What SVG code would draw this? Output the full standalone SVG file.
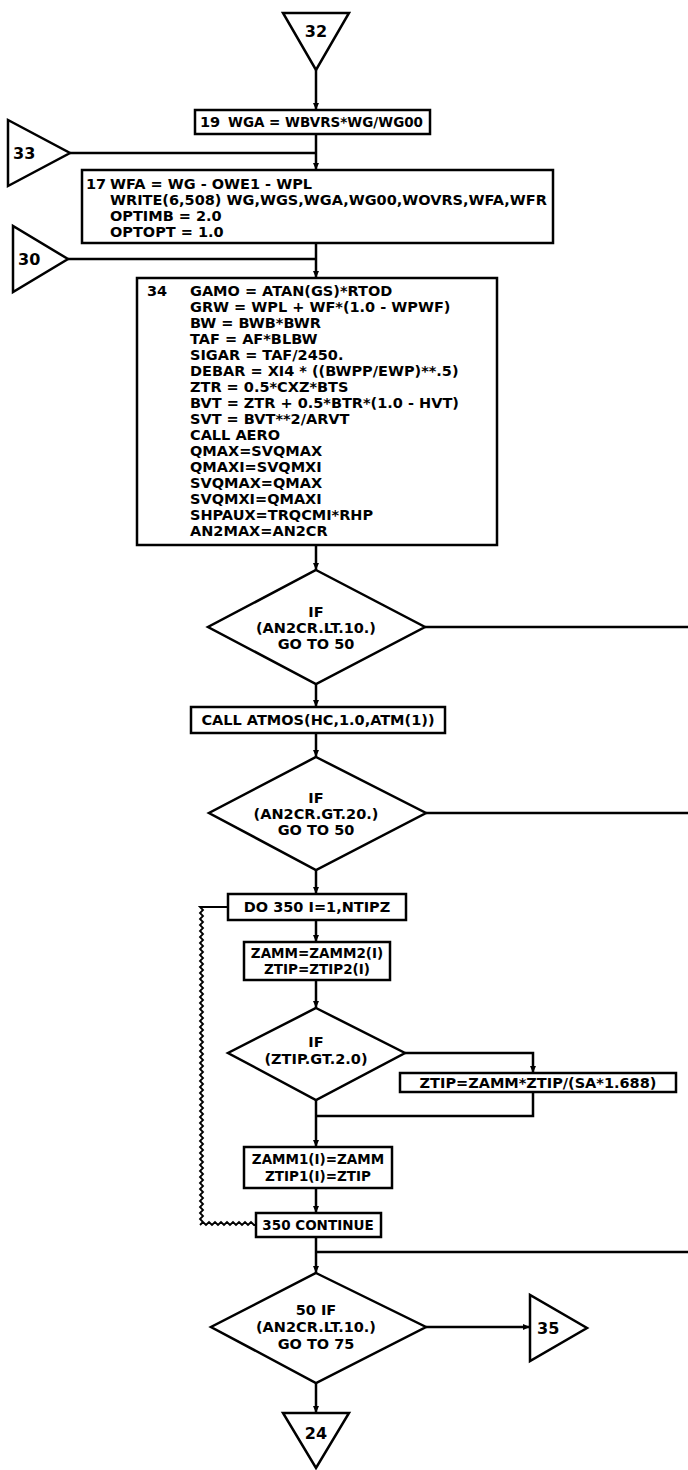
<svg xmlns="http://www.w3.org/2000/svg" width="688" height="1470" viewBox="0 0 688 1470">
<style>
.box{fill:#fff;stroke:#000;stroke-width:2.5}
.ln{fill:none;stroke:#000;stroke-width:2.5}
.wv{fill:none;stroke:#000;stroke-width:1.8}
text{font-family:"DejaVu Sans","Liberation Sans",Arial,sans-serif;font-weight:bold;font-size:14.5px;fill:#000}
.c{text-anchor:middle}
.sm{font-size:13.5px}
.lbl{font-size:16px}
</style>
<defs>
<marker id="ah" markerUnits="userSpaceOnUse" markerWidth="8" markerHeight="8" refX="7" refY="4" orient="auto"><path d="M0,1 L7,4 L0,7 z" fill="#000"/></marker>
</defs>
<rect width="688" height="1470" fill="#fff"/>
<g id="connectors">
<path class="ln" d="M316,70 V110" marker-end="url(#ah)"/>
<path class="ln" d="M316,134 V170" marker-end="url(#ah)"/>
<path class="ln" d="M70,153 H316"/>
<path class="ln" d="M316,243 V278" marker-end="url(#ah)"/>
<path class="ln" d="M68,259 H316"/>
<path class="ln" d="M316,545 V570" marker-end="url(#ah)"/>
<path class="ln" d="M425,627 H688"/>
<path class="ln" d="M316,684 V707" marker-end="url(#ah)"/>
<path class="ln" d="M316,733 V757" marker-end="url(#ah)"/>
<path class="ln" d="M426,813 H688"/>
<path class="ln" d="M316,870 V894" marker-end="url(#ah)"/>
<path class="ln" d="M316,920 V942" marker-end="url(#ah)"/>
<path class="ln" d="M316,980 V1008" marker-end="url(#ah)"/>
<path class="ln" d="M405,1053 H533 V1073" marker-end="url(#ah)"/>
<path class="ln" d="M533,1092 V1116 H316"/>
<path class="ln" d="M316,1100 V1147" marker-end="url(#ah)"/>
<path class="ln" d="M316,1188 V1213" marker-end="url(#ah)"/>
<path class="ln" d="M316,1237 V1273" marker-end="url(#ah)"/>
<path class="ln" d="M688,1252 H316"/>
<path class="ln" d="M426,1327 H530" marker-end="url(#ah)"/>
<path class="ln" d="M316,1383 V1413" marker-end="url(#ah)"/>
<path class="wv" d="M228,907 H200
l3,3 l-3,3 l3,3 l-3,3 l3,3 l-3,3 l3,3 l-3,3 l3,3 l-3,3 l3,3 l-3,3 l3,3 l-3,3 l3,3 l-3,3 l3,3 l-3,3 l3,3 l-3,3
l3,3 l-3,3 l3,3 l-3,3 l3,3 l-3,3 l3,3 l-3,3 l3,3 l-3,3 l3,3 l-3,3 l3,3 l-3,3 l3,3 l-3,3 l3,3 l-3,3 l3,3 l-3,3
l3,3 l-3,3 l3,3 l-3,3 l3,3 l-3,3 l3,3 l-3,3 l3,3 l-3,3 l3,3 l-3,3 l3,3 l-3,3 l3,3 l-3,3 l3,3 l-3,3 l3,3 l-3,3
l3,3 l-3,3 l3,3 l-3,3 l3,3 l-3,3 l3,3 l-3,3 l3,3 l-3,3 l3,3 l-3,3 l3,3 l-3,3 l3,3 l-3,3 l3,3 l-3,3 l3,3 l-3,3
l3,3 l-3,3 l3,3 l-3,3 l3,3 l-3,3 l3,3 l-3,3 l3,3 l-3,3 l3,3 l-3,3 l3,3 l-3,3 l3,3 l-3,3 l3,3 l-3,3 l3,3 l-3,3
l3,3 l-3,3 l3,3 l-3,3 l3,3 l-3,3
l3,-3 l3,3 l3,-3 l3,3 l3,-3 l3,3 l3,-3 l3,3 l3,-3 l3,3 l3,-3 l3,3 l3,-3 l3,3 l3,-3 l3,3 l3,-3 l3,3 H256"/>
</g>
<g id="t32"><polygon class="box" points="283,13 349,13 316,70"/><text class="c lbl" x="316" y="37">32</text></g>
<g id="t33"><polygon class="box" points="8,120 8,186 70,153"/><text class="lbl" x="13" y="159">33</text></g>
<g id="t30"><polygon class="box" points="13,226 13,292 68,259"/><text class="lbl" x="18" y="265">30</text></g>
<g id="b19"><rect class="box" x="195" y="110" width="235" height="24"/><text x="200" y="127">19</text><text x="228" y="127" textLength="195" lengthAdjust="spacingAndGlyphs">WGA = WBVRS*WG/WG00</text></g>
<g id="b17"><rect class="box" x="82" y="170" width="471" height="73"/>
<text x="86" y="189">17</text>
<text x="110" y="189">WFA = WG - OWE1 - WPL</text>
<text x="110" y="205">WRITE(6,508) WG,WGS,WGA,WG00,WOVRS,WFA,WFR</text>
<text x="110" y="221">OPTIMB = 2.0</text>
<text x="110" y="237">OPTOPT = 1.0</text></g>
<g id="b34"><rect class="box" x="137" y="278" width="360" height="267"/>
<text x="147" y="296">34</text>
<text x="190" y="296">GAMO = ATAN(GS)*RTOD</text>
<text x="190" y="312">GRW = WPL + WF*(1.0 - WPWF)</text>
<text x="190" y="328">BW = BWB*BWR</text>
<text x="190" y="344">TAF = AF*BLBW</text>
<text x="190" y="360">SIGAR = TAF/2450.</text>
<text x="190" y="376">DEBAR = XI4 * ((BWPP/EWP)**.5)</text>
<text x="190" y="392">ZTR = 0.5*CXZ*BTS</text>
<text x="190" y="408">BVT = ZTR + 0.5*BTR*(1.0 - HVT)</text>
<text x="190" y="424">SVT = BVT**2/ARVT</text>
<text x="190" y="440">CALL AERO</text>
<text x="190" y="456">QMAX=SVQMAX</text>
<text x="190" y="472">QMAXI=SVQMXI</text>
<text x="190" y="488">SVQMAX=QMAX</text>
<text x="190" y="504">SVQMXI=QMAXI</text>
<text x="190" y="520">SHPAUX=TRQCMI*RHP</text>
<text x="190" y="536">AN2MAX=AN2CR</text></g>
<g id="d1"><polygon class="box" points="316,570 425,627 316,684 208,627"/>
<text class="c" x="316" y="617">IF</text><text class="c" x="316" y="633">(AN2CR.LT.10.)</text><text class="c" x="316" y="649">GO TO 50</text></g>
<g id="b_atmos"><rect class="box" x="191" y="707" width="254" height="26"/><text class="c" x="318" y="725">CALL ATMOS(HC,1.0,ATM(1))</text></g>
<g id="d2"><polygon class="box" points="316,757 426,813 316,870 209,813"/>
<text class="c" x="316" y="803">IF</text><text class="c" x="316" y="819">(AN2CR.GT.20.)</text><text class="c" x="316" y="835">GO TO 50</text></g>
<g id="b_do"><rect class="box" x="228" y="894" width="178" height="26"/><text class="c" x="317" y="912">DO 350 I=1,NTIPZ</text></g>
<g id="b_zamm"><rect class="box" x="244" y="942" width="146" height="38"/><text class="c sm" x="317" y="958">ZAMM=ZAMM2(I)</text><text class="c sm" x="317" y="974">ZTIP=ZTIP2(I)</text></g>
<g id="d3"><polygon class="box" points="316,1008 405,1053 316,1100 228,1053"/>
<text class="c" x="316" y="1047">IF</text><text class="c" x="316" y="1064">(ZTIP.GT.2.0)</text></g>
<g id="b_ztip"><rect class="box" x="400" y="1073" width="276" height="19"/><text class="c" x="538" y="1088">ZTIP=ZAMM*ZTIP/(SA*1.688)</text></g>
<g id="b_zamm1"><rect class="box" x="244" y="1147" width="148" height="41"/><text class="c sm" x="318" y="1164">ZAMM1(I)=ZAMM</text><text class="c sm" x="318" y="1181">ZTIP1(I)=ZTIP</text></g>
<g id="b_350"><rect class="box" x="256" y="1213" width="125" height="24"/><text class="c sm" x="318" y="1230">350 CONTINUE</text></g>
<g id="d4"><polygon class="box" points="316,1273 426,1327 316,1383 211,1327"/>
<text class="c" x="316" y="1315">50 IF</text><text class="c" x="316" y="1332">(AN2CR.LT.10.)</text><text class="c" x="316" y="1349">GO TO 75</text></g>
<g id="t35"><polygon class="box" points="530,1295 530,1361 587,1328"/><text class="lbl" x="537" y="1334">35</text></g>
<g id="t24"><polygon class="box" points="283,1413 349,1413 316,1468"/><text class="c lbl" x="316" y="1439">24</text></g>
</svg>
